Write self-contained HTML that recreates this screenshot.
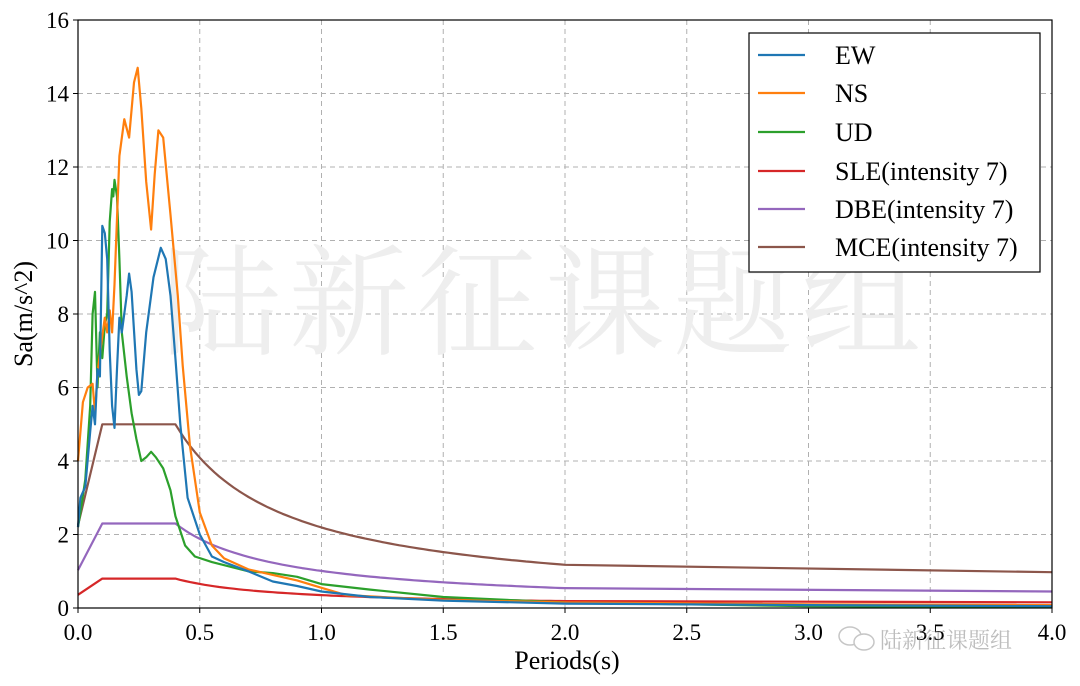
<!DOCTYPE html>
<html><head><meta charset="utf-8"><style>
html,body{margin:0;padding:0;background:#fff;}
svg{display:block;}
text{font-family:"Liberation Serif","Noto Serif CJK SC",serif;}
</style></head><body>
<svg id="s" width="1080" height="686" viewBox="0 0 1080 686" xmlns="http://www.w3.org/2000/svg">
<rect width="1080" height="686" fill="#fff"/>
<g id="grid" stroke="#b0b0b0" stroke-dasharray="5,4" stroke-width="1"></g>
<text x="545" y="345" font-size="120" fill="#eeeeee" text-anchor="middle" font-family="'Noto Serif CJK SC',serif" letter-spacing="8">陆新征课题组</text>
<g id="curves" fill="none" stroke-width="2.2" stroke-linejoin="round"></g>
<rect x="78" y="20" width="974" height="588" fill="none" stroke="#000" stroke-width="1.2"/>
<g id="ticks" stroke="#000" stroke-width="1"></g>
<g id="labels" font-size="23" fill="#000"></g>
<text x="567" y="669" font-size="26" text-anchor="middle">Periods(s)</text>
<text transform="translate(32,314) rotate(-90)" font-size="26" text-anchor="middle">Sa(m/s^2)</text>
<g>
<rect x="749" y="33" width="291" height="239" fill="#fff" stroke="#000" stroke-width="1.2"/>
<g font-size="26" fill="#000">
<line x1="758" y1="55" x2="805" y2="55" stroke="#1f77b4" stroke-width="2.2"/><text x="835" y="64">EW</text>
<line x1="758" y1="93" x2="805" y2="93" stroke="#ff7f0e" stroke-width="2.2"/><text x="835" y="102">NS</text>
<line x1="758" y1="132" x2="805" y2="132" stroke="#2ca02c" stroke-width="2.2"/><text x="835" y="141">UD</text>
<line x1="758" y1="171" x2="805" y2="171" stroke="#d62728" stroke-width="2.2"/><text x="835" y="180">SLE(intensity 7)</text>
<line x1="758" y1="209" x2="805" y2="209" stroke="#9467bd" stroke-width="2.2"/><text x="835" y="218">DBE(intensity 7)</text>
<line x1="758" y1="247" x2="805" y2="247" stroke="#8c564b" stroke-width="2.2"/><text x="835" y="256">MCE(intensity 7)</text>
</g></g>
<g opacity="0.55">
<ellipse cx="850" cy="636" rx="11" ry="9" fill="none" stroke="#999" stroke-width="1.5"/>
<ellipse cx="864" cy="642" rx="10" ry="8" fill="#fff" stroke="#999" stroke-width="1.5"/>
<text x="880" y="648" font-size="22" fill="#888" font-family="'Noto Sans CJK SC',sans-serif">陆新征课题组</text>
</g>
</svg>
<script>
const X=t=>78+t*243.5, Y=v=>608-v*36.75, ns="http://www.w3.org/2000/svg";
function el(p,n,a){const e=document.createElementNS(ns,n);for(const k in a)e.setAttribute(k,a[k]);document.getElementById(p).appendChild(e);return e;}
for(let i=1;i<8;i++){el('grid','line',{x1:X(i*0.5),y1:20,x2:X(i*0.5),y2:608});}
for(let i=1;i<8;i++){el('grid','line',{x1:78,y1:Y(i*2),x2:1052,y2:Y(i*2)});}
for(let i=0;i<=8;i++){el('ticks','line',{x1:X(i*0.5),y1:608,x2:X(i*0.5),y2:613});
 const t=el('labels','text',{x:X(i*0.5),y:640,'text-anchor':'middle'});t.textContent=(i*0.5).toFixed(1);}
for(let i=0;i<=8;i++){el('ticks','line',{x1:73,y1:Y(i*2),x2:78,y2:Y(i*2)});
 const t=el('labels','text',{x:69,y:Y(i*2)+8,'text-anchor':'end'});t.textContent=i*2;}
function poly(pts,c){el('curves','polyline',{points:pts.map(p=>X(p[0]).toFixed(1)+','+Y(p[1]).toFixed(1)).join(' '),stroke:c});}
function design(a0,amax){const p=[[0,a0],[0.1,amax],[0.4,amax]];for(let t=0.42;t<=2.0001;t+=0.02)p.push([t,amax*Math.pow(0.4/t,0.9)]);const a2=amax*Math.pow(0.2,0.9),a4=a2*0.83;p.push([4,a4]);return p;}
poly(design(0.36,0.8),'#d62728');
poly(design(1.03,2.3),'#9467bd');
poly(design(2.25,5.0),'#8c564b');
poly([[0,2.2],[.01,2.6],[.03,3.5],[.05,5.5],[.06,8.0],[.07,8.6],[.08,6.0],[.09,7.5],[.1,6.8],[.11,7.7],[.12,8.0],[.13,10.5],[.14,11.4],[.145,11.2],[.15,11.65],[.16,11.2],[.17,9.5],[.18,7.5],[.2,6.3],[.22,5.3],[.24,4.6],[.26,4.0],[.28,4.1],[.3,4.25],[.32,4.1],[.35,3.8],[.38,3.2],[.4,2.5],[.44,1.7],[.48,1.4],[.55,1.25],[.7,1.0],[.8,0.95],[.9,0.85],[1.0,0.65],[1.2,0.5],[1.5,0.3],[2,0.15],[3,0.05],[4,0.02]],'#2ca02c');
poly([[0,4.0],[.02,5.6],[.04,6.0],[.06,6.1],[.07,5.3],[.08,6.4],[.1,7.4],[.11,7.9],[.12,7.5],[.13,8.1],[.14,7.5],[.15,8.8],[.16,10.6],[.17,12.3],[.19,13.3],[.21,12.8],[.23,14.3],[.245,14.7],[.26,13.6],[.28,11.6],[.30,10.3],[.315,11.8],[.33,13.0],[.35,12.8],[.38,10.7],[.41,8.5],[.43,6.6],[.46,4.4],[.5,2.6],[.55,1.7],[.6,1.35],[.7,1.05],[.8,0.9],[.9,0.75],[1.0,0.55],[1.1,0.35],[1.3,0.28],[1.5,0.22],[2,0.15],[3,0.1],[4,0.08]],'#ff7f0e');
poly([[0,2.2],[.01,3.0],[.03,3.3],[.05,4.8],[.06,5.5],[.07,5.0],[.08,6.5],[.09,6.3],[.1,10.4],[.11,10.2],[.12,9.5],[.13,7.0],[.14,5.5],[.15,4.9],[.16,6.5],[.17,7.9],[.18,7.5],[.2,8.5],[.21,9.1],[.22,8.6],[.24,6.5],[.25,5.8],[.26,5.9],[.28,7.5],[.31,9.0],[.34,9.8],[.36,9.5],[.38,8.5],[.4,6.8],[.42,5],[.45,3.0],[.5,2.0],[.55,1.4],[.6,1.25],[.7,1.0],[.8,0.72],[.9,0.6],[1.0,0.45],[1.2,0.3],[1.5,0.2],[2,0.12],[3,0.08],[4,0.05]],'#1f77b4');
</script>
</body></html>
